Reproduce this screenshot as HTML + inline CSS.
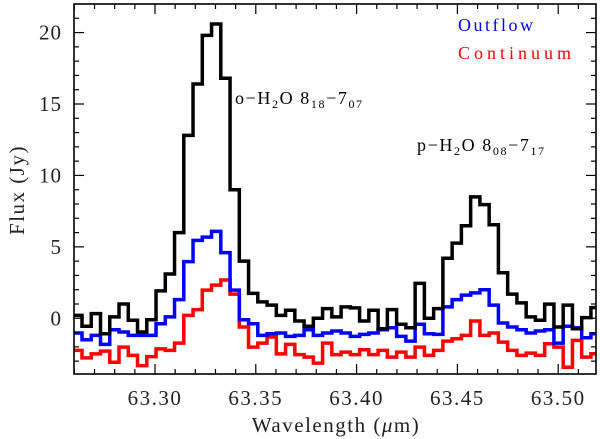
<!DOCTYPE html>
<html><head><meta charset="utf-8"><style>
body{margin:0;background:#fff;}
svg{display:block;font-family:"Liberation Serif",serif;}
</style></head><body>
<svg id="chart" width="600" height="439">
<g id="plot"></g>
<g id="axes"></g>
<text x="235" y="104" font-size="18" letter-spacing="1.6">o−H<tspan font-size="12" dy="4">2</tspan><tspan dy="-4">O  8</tspan><tspan font-size="12" dy="4">18</tspan><tspan dy="-4">−7</tspan><tspan font-size="12" dy="4">07</tspan></text>
<text x="417" y="151" font-size="18" letter-spacing="1.6">p−H<tspan font-size="12" dy="4">2</tspan><tspan dy="-4">O  8</tspan><tspan font-size="12" dy="4">08</tspan><tspan dy="-4">−7</tspan><tspan font-size="12" dy="4">17</tspan></text>
<text x="458" y="31" font-size="18" fill="#0000ff" textLength="75">Outflow</text>
<text x="458" y="59" font-size="18" fill="#ff0000" textLength="113">Continuum</text>
<text x="336" y="432" font-size="21" letter-spacing="1.5" text-anchor="middle" fill="#222">Wavelength (<tspan font-style="italic">μ</tspan>m)</text>
<text transform="translate(24,190) rotate(-90)" font-size="21" letter-spacing="1.5" text-anchor="middle" fill="#222">Flux (Jy)</text>
</svg>
<script>
const binStart = 63.2592;
const binWidth = 0.00459;
const fluxTotal = [0.2,-0.56,0.33,-1.08,0.1,1.0,-0.14,-0.96,-0.1,1.92,3.1,6.0,12.8,16.4,19.8,20.6,16.8,9.0,4.0,1.74,1.15,0.92,0.2,0.56,-0.19,-0.56,0,0.68,0.1,0.8,0.73,-0.19,0.56,-0.73,0.61,-0.42,-0.66,2.44,0,0.68,4.2,5.26,6.48,8.5,7.96,6.55,3.19,1.69,1.08,0.1,-0.14,0.99,-0.61,0.92,-0.73,0.05,0.75];
const fluxOutflow = [-1.03,-1.5,-1.2,-1.83,-0.8,-0.96,-1.2,-1.2,-1.2,-0.38,0.1,1.31,3.97,5.45,5.68,6.08,4.6,1.97,-0.1,-0.38,-1.2,-1.08,-1.03,-1.27,-1.2,-0.8,-1.2,-1.03,-0.89,-1.03,-1.27,-1.13,-1.03,-0.8,-0.66,-1.27,-1.6,-0.42,-1.08,-1.13,0.8,1.31,1.62,1.78,2.0,0.92,-0.33,-0.61,-0.8,-1.03,-0.89,-0.8,-1.74,-0.56,-0.66,-1.36,-1.08];
const fluxContinuum = [-2.25,-2.77,-2.49,-2.3,-3.08,-2.02,-2.6,-3.31,-2.68,-2.14,-2.25,-1.74,0.2,0.61,1.97,2.32,2.68,1.69,-0.61,-2.02,-1.74,-1.31,-2.49,-1.83,-2.54,-2.72,-3.14,-1.74,-2.54,-2.37,-2.54,-2.2,-2.54,-2.25,-2.72,-2.37,-2.72,-2.02,-2.6,-2.25,-1.6,-1.43,-1.2,-0.19,-1.2,-1.03,-1.67,-2.25,-2.6,-2.44,-2.6,-1.78,-2.02,-3.43,-1.55,-2.72,-2.48];
const xTicks = [63.30,63.35,63.40,63.45,63.50];
const xTickLabels = ["63.30","63.35","63.40","63.45","63.50"];
const yTicks = [0,5,10,15,20];
const yTickLabels = ["0","5","10","15","20"];

const L=74,R=596,T=4,B=374;
const xMin=63.30-(155-L)/2016, xMax=63.30+(R-155)/2016;
const yMin=-3.9, yMax=22.0;
const xs=v=>L+(v-xMin)/(xMax-xMin)*(R-L);
const ys=v=>B-(v-yMin)/(yMax-yMin)*(B-T);
const NS="http://www.w3.org/2000/svg";
const plot=document.getElementById('plot'), axes=document.getElementById('axes');
function mk(tag,attrs,parent){const e=document.createElementNS(NS,tag);for(const k in attrs)e.setAttribute(k,attrs[k]);parent.appendChild(e);return e;}
const cp=mk('clipPath',{id:'clip'},plot);
mk('rect',{x:L,y:T,width:R-L,height:B-T},cp);
function stepPath(vals){let d='';vals.forEach((v,i)=>{const x0=xs(binStart+i*binWidth),x1=xs(binStart+(i+1)*binWidth),y=ys(v);d+=(i===0?'M'+x0+','+y:'L'+x0+','+y)+'L'+x1+','+y;});return d;}
const series=[[fluxContinuum,'#ff0000','continuum-spectrum'],[fluxOutflow,'#0000ff','outflow-spectrum'],[fluxTotal,'#000000','total-spectrum']];
series.forEach(s=>{const p=mk('path',{d:stepPath(s[0]),fill:'none',stroke:s[1],'stroke-width':3.5,'clip-path':'url(#clip)'},plot);

});
const fr=mk('rect',{x:L,y:T,width:R-L,height:B-T,fill:'none',stroke:'#000','stroke-width':1.6},axes);


for(let k=0;k<=30;k++){const v=63.26+k*0.01;if(v>xMax)break;const x=xs(v);const major=k%5===4;const len=major?10:5;
mk('line',{x1:x,x2:x,y1:B,y2:B-len,stroke:'#000','stroke-width':1.2},axes);mk('line',{x1:x,x2:x,y1:T,y2:T+len,stroke:'#000','stroke-width':1.2},axes);}
xTicks.forEach((v,i)=>{const t=mk('text',{x:xs(v),y:405,'font-size':21,'letter-spacing':1.5,'text-anchor':'middle',fill:'#222'},axes);t.textContent=xTickLabels[i];

});
for(let v=-3;v<=21;v++){const y=ys(v);const len=v%5===0?10:5;
mk('line',{x1:L,x2:L+len,y1:y,y2:y,stroke:'#000','stroke-width':1.2},axes);mk('line',{x1:R,x2:R-len,y1:y,y2:y,stroke:'#000','stroke-width':1.2},axes);}
yTicks.forEach((v,i)=>{const t=mk('text',{x:62,y:ys(v)+7,'font-size':21,'letter-spacing':1,'text-anchor':'end',fill:'#222'},axes);t.textContent=yTickLabels[i];

});
</script>
</body></html>
